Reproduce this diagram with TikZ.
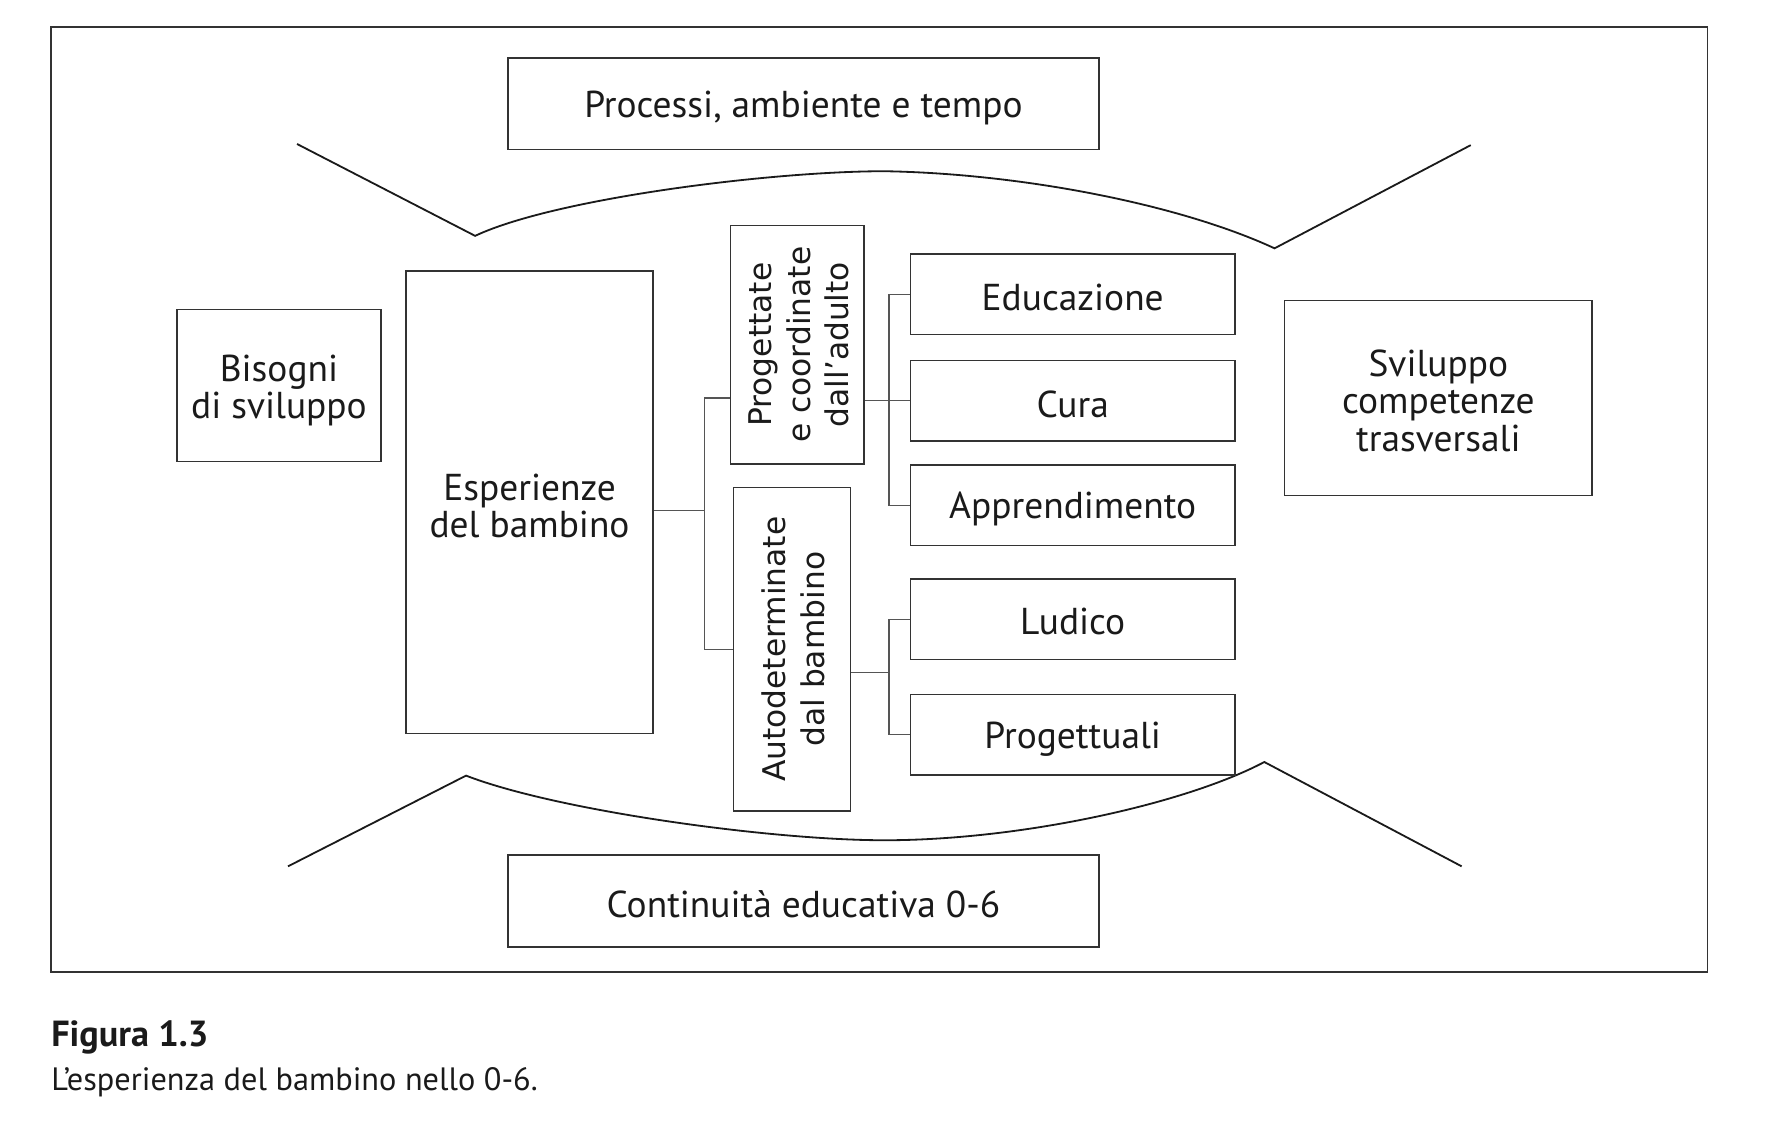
\documentclass[tikz,border=0pt]{standalone}
\usepackage{fontspec}
\setmainfont{PT Sans}
\newfontfamily\rotfont{DejaVu Sans}
\definecolor{ink}{HTML}{1A1A1A}
\definecolor{edge}{HTML}{333333}
\definecolor{conn}{HTML}{555555}
\begin{document}
\begin{tikzpicture}[x=1pt,y=-1pt,
  box/.style={draw=edge, line width=1.3pt, fill=white, inner sep=0pt},
  lbl/.style={text=ink, align=center, inner sep=0pt,
    font={\fontsize{33}{33}\selectfont}},
  rottext/.style={text=ink, align=center, inner sep=0pt, rotate=90,
    font={\rotfont\fontsize{27.6}{34}\selectfont}},
  link/.style={draw=conn, line width=1.1pt},
  wing/.style={draw=ink, line width=1.6pt, line join=miter},
  captext/.style={text=ink, inner sep=0pt, anchor=base west}]
\useasboundingbox (0,0) rectangle (1568,1007);
% frame
\draw[edge, line width=1.3pt] (45,24) rectangle (1506,857);

% top and bottom boxes
\node[box, minimum width=521, minimum height=81] (proc) at (708.5,91.5) {};
\node[lbl] (proctxt) at ([yshift=-4pt]proc.center) {Processi, ambiente e tempo};
\node[box, minimum width=521, minimum height=81] (cont) at (708.5,794.5) {};
\node[lbl] (conttxt) at ([yshift=-3pt]cont.center) {Continuità educativa 0-6};

% wings (top)
\coordinate (tl) at (262,127);
\coordinate (tv1) at (419,208);
\coordinate (tpk) at (780,151);
\coordinate (tv2) at (1124,219);
\coordinate (tr) at (1297,128);
\draw[wing] (tl) -- (tv1) .. controls (489,175) and (680,151) .. (tpk)
  .. controls (900,153) and (1040,180) .. (tv2) -- (tr);
% wings (bottom)
\coordinate (bl) at (254,764);
\coordinate (bv1) at (411,684);
\coordinate (bpk) at (780,741);
\coordinate (bv2) at (1115,672);
\coordinate (br) at (1289,764);
\draw[wing] (bl) -- (bv1) .. controls (491,715) and (680,741) .. (bpk)
  .. controls (900,741) and (1045,709) .. (bv2) -- (br);

% left boxes
\node[box, minimum width=180, minimum height=134] (biso) at (246,340) {};
\node[lbl] (bisotxt) at ([yshift=-4.5pt]biso.center) {Bisogni\\di sviluppo};
\node[box, minimum width=218, minimum height=408] (espe) at (467,443) {};
\node[lbl] (espetxt) at ([yshift=-3pt]espe.center) {Esperienze\\del bambino};

% rotated boxes
\node[box, minimum width=118, minimum height=210] (prog) at (703,304) {};
\node[rottext] (progtxt) at ([xshift=1.5pt]prog.center) {Progettate\\e coordinate\\dall’adulto};
\node[box, minimum width=103, minimum height=285] (auto) at (698.5,572.5) {};
\node[rottext] (autotxt) at ([xshift=1pt]auto.center) {Autodeterminate\\dal bambino};

% right column boxes
\node[box, minimum width=286, minimum height=71] (edu) at (946,259.5) {};
\node[lbl] (edutxt) at ([yshift=-2.5pt]edu.center) {Educazione};
\node[box, minimum width=286, minimum height=71] (cura) at (946,353.5) {};
\node[lbl] (curatxt) at ([yshift=-3pt]cura.center) {Cura};
\node[box, minimum width=286, minimum height=71] (appr) at (946,445.5) {};
\node[lbl] (apprtxt) at ([yshift=-3pt]appr.center) {Apprendimento};
\node[box, minimum width=286, minimum height=71] (ludi) at (946,546) {};
\node[lbl] (luditxt) at ([yshift=-2.5pt]ludi.center) {Ludico};
\node[box, minimum width=286, minimum height=71] (proget) at (946,648) {};
\node[lbl] (progettxt) at ([yshift=-4pt]proget.center) {Progettuali};

\node[box, minimum width=271, minimum height=172] (svil) at (1268.5,351) {};
\node[lbl] (sviltxt) at ([yshift=-2.5pt]svil.center) {Sviluppo\\competenze\\trasversali};

% connectors
\coordinate (j1) at (621,450);
\coordinate (ja) at (621,351);
\coordinate (jb) at (621,573);
\draw[link] (espe.east |- j1) -- (j1);
\draw[link] (prog.west |- ja) -- (ja) -- (jb) -- (auto.west |- jb);

\coordinate (kx) at (784,353);
\draw[link] (prog.east |- kx) -- (cura.west |- kx);
\draw[link] (edu.west) -- (edu.west -| kx) -- (appr.west -| kx) -- (appr.west);

\coordinate (m) at (784,593);
\draw[link] (auto.east |- m) -- (m);
\draw[link] (ludi.west) -- (ludi.west -| m) -- (proget.west -| m) -- (proget.west);

% caption
\node[captext, font={\fontsize{32}{32}\selectfont\bfseries}] (figt) at (45,923) {Figura 1.3};
\node[captext, font={\fontsize{28.5}{28.5}\selectfont}] (figc) at (45,962) {L’esperienza del bambino nello 0-6.};
\end{tikzpicture}
\end{document}
